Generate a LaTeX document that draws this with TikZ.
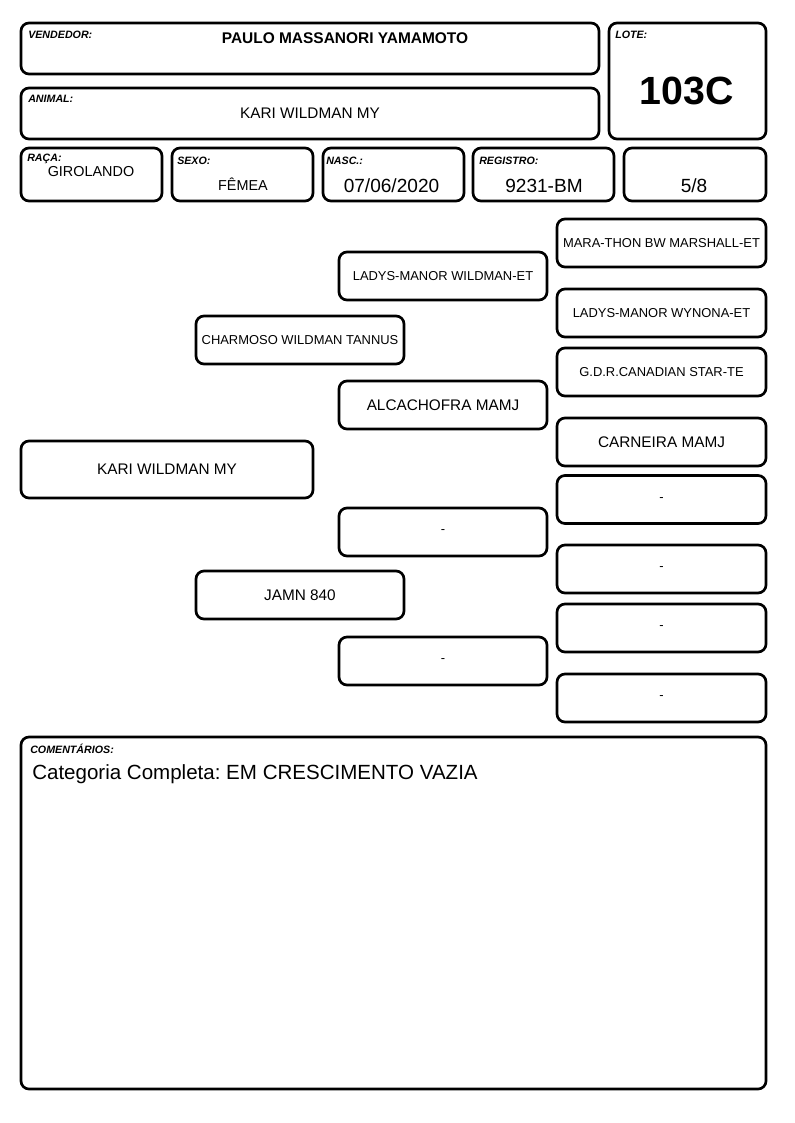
\documentclass[tikz,border=0pt]{standalone}
\usepackage{fontspec}
\setmainfont{Liberation Sans}
\frenchspacing
\begin{document}
\begin{tikzpicture}[x=0.75pt,y=0.75pt]
\tikzstyle{every node}+=[inner sep=0pt]
\tikzstyle{box}=[draw,line width=2pt,rounded corners=6pt,align=center]
\tikzstyle{tag}=[anchor=west,font=\fontsize{8}{9}\selectfont\bfseries\itshape]
\tikzstyle{small}=[font=\fontsize{9.7}{11}\selectfont]
\tikzstyle{mid}=[font=\fontsize{11.5}{13}\selectfont]
\tikzstyle{big}=[font=\fontsize{14.3}{16}\selectfont]
\tikzstyle{gen1}=[box,minimum width=156pt,minimum height=36pt]
\tikzstyle{gen2}=[box,minimum width=156pt,minimum height=36pt]
\tikzstyle{gen3}=[box,minimum width=156.75pt,minimum height=36pt]
\useasboundingbox (0,0) rectangle (794,-1123);
\node[box,minimum width=433.5pt,minimum height=38.25pt] (vendedor) at (310,-48.5) {};
\node[tag] (vendedortag) at (28,-35) {VENDEDOR:};
\node[font=\fontsize{11.6}{13}\selectfont\bfseries] (vendedorval) at (345,-38) {PAULO MASSANORI YAMAMOTO};
\node[box,minimum width=117.75pt,minimum height=87pt] (lote) at (687.5,-81) {};
\node[tag] (lotetag) at (615,-35) {LOTE:};
\node[font=\fontsize{29.5}{32}\selectfont\bfseries] (loteval) at (687,-91) {103C};
\node[box,minimum width=433.5pt,minimum height=38.25pt] (animal) at (310,-113.5) {};
\node[tag] (animaltag) at (28,-99) {ANIMAL:};
\node[mid] (animalval) at (310,-113) {KARI WILDMAN MY};
\node[box,minimum width=105.75pt,minimum height=39.75pt] (raca) at (91.5,-174.5) {};
\node[tag] (racatag) at (27,-159) {RAÇA:};
\node[font=\fontsize{10.8}{12}\selectfont] (racaval) at (91,-172) {GIROLANDO};
\node[box,minimum width=105.75pt,minimum height=39.75pt] (sexo) at (242.5,-174.5) {};
\node[tag] (sexotag) at (177,-161) {SEXO:};
\node[font=\fontsize{10.8}{12}\selectfont] (sexoval) at (243,-184) {FÊMEA};
\node[box,minimum width=105.75pt,minimum height=39.75pt] (nasc) at (393.5,-174.5) {};
\node[tag] (nasctag) at (326,-161) {NASC.:};
\node[big] (nascval) at (391.5,-186) {07/06/2020};
\node[box,minimum width=105.75pt,minimum height=39.75pt] (registro) at (543.5,-174.5) {};
\node[tag] (registrotag) at (479,-161) {REGISTRO:};
\node[big] (registroval) at (544,-186) {9231-BM};
\node[box,minimum width=106.5pt,minimum height=39.75pt] (fracao) at (695,-174.5) {};
\node[big] (fracaoval) at (694,-186) {5/8};
\node[box,mid,minimum width=219pt,minimum height=42.75pt] (kari) at (167,-469.5) {KARI WILDMAN MY};
\node[gen1,small] (pai) at (300,-340) {CHARMOSO WILDMAN TANNUS};
\node[gen1,mid] (mae) at (300,-595) {JAMN 840};
\node[gen2,small] (avopp) at (443,-276) {LADYS-MANOR WILDMAN-ET};
\node[gen2,mid] (avopm) at (443,-405) {ALCACHOFRA MAMJ};
\node[gen2,small] (avomp) at (443,-532) {-};
\node[gen2,small] (avomm) at (443,-661) {-};
\node[gen3,small] (bisa1) at (661.5,-243) {MARA-THON BW MARSHALL-ET};
\node[gen3,small] (bisa2) at (661.5,-313) {LADYS-MANOR WYNONA-ET};
\node[gen3,small] (bisa3) at (661.5,-372) {G.D.R.CANADIAN STAR-TE};
\node[gen3,mid] (bisa4) at (661.5,-442) {CARNEIRA MAMJ};
\node[gen3,small] (bisa5) at (661.5,-499.5) {-};
\node[gen3,small] (bisa6) at (661.5,-569) {-};
\node[gen3,small] (bisa7) at (661.5,-628) {-};
\node[gen3,small] (bisa8) at (661.5,-698) {-};
\node[box,minimum width=558.75pt,minimum height=264pt] (comentarios) at (393.5,-913) {};
\node[tag] (comentariostag) at (30,-749) {COMENTÁRIOS:};
\node[anchor=west,font=\fontsize{15.4}{17}\selectfont] (comentariosval) at (32,-774) {Categoria Completa: EM CRESCIMENTO VAZIA};
\end{tikzpicture}
\end{document}
